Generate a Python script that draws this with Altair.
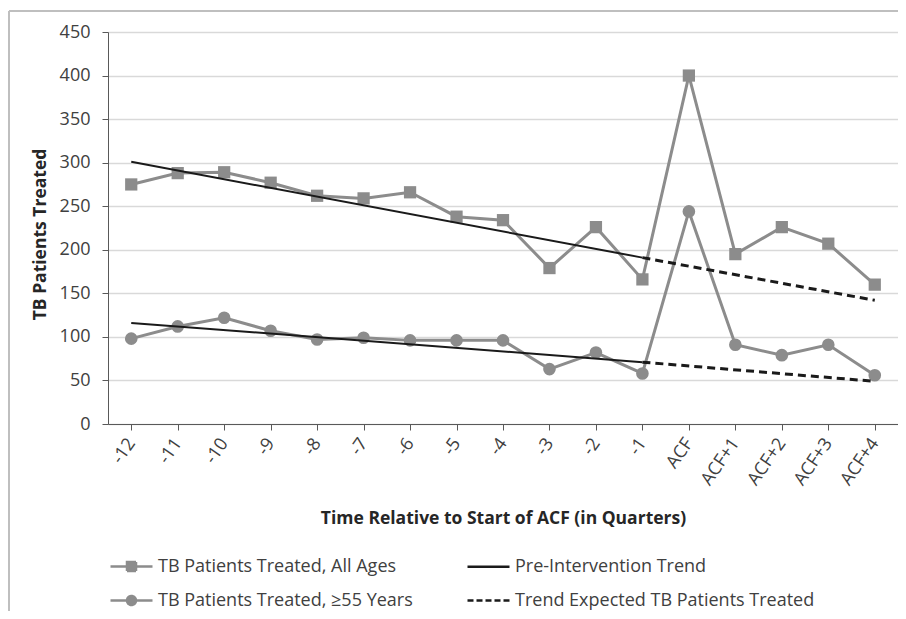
import altair as alt
import pandas as pd

categories = ["-12", "-11", "-10", "-9", "-8", "-7", "-6", "-5", "-4", "-3", "-2", "-1",
              "ACF", "ACF+1", "ACF+2", "ACF+3", "ACF+4"]
all_ages = [275, 288, 289, 277, 262, 259, 266, 238, 234, 179, 226, 166, 400, 195, 226, 207, 160]
age55 = [98, 112, 122, 107, 97, 99, 96, 96, 96, 63, 82, 58, 244, 91, 79, 91, 56]

# trend lines: endpoints
pre_q = ["-12", "-1"]
pre_all = [301, 191]
pre_55 = [116, 71]
exp_q = ["-1", "ACF+4"]
exp_all = [191, 142]
exp_55 = [71, 49]

S_ALL = "TB Patients Treated, All Ages"
S_55 = "TB Patients Treated, \u226555 Years"
S_PRE = "Pre-Intervention Trend"
S_EXP = "Trend Expected TB Patients Treated"
legend_order = [S_ALL, S_55, S_PRE, S_EXP]

GRAY = "#8c8c8c"
BLACK = "#1a1a1a"
FONT = "Open Sans"

df = pd.DataFrame({
    "q": categories * 2,
    "value": all_ages + age55,
    "series": [S_ALL] * len(categories) + [S_55] * len(categories),
})
trend = pd.DataFrame({
    "q": pre_q * 2 + exp_q * 2,
    "value": pre_all + pre_55 + exp_all + exp_55,
    "grp": ["all", "all", "55", "55"] * 2,
    "seg": ["pre"] * 4 + ["exp"] * 4,
})
leg = pd.DataFrame({"label": legend_order})

x = alt.X("q:N", sort=categories, scale=alt.Scale(domain=categories),
          axis=alt.Axis(title="Time Relative to Start of ACF (in Quarters)",
                        labelAngle=305, labelAlign="right", labelBaseline="middle",
                        labelPadding=10, tickSize=6, grid=False,
                        titleY=94, titleBaseline="middle"))
y = alt.Y("value:Q", scale=alt.Scale(domain=[0, 450], nice=False),
          axis=alt.Axis(title="TB Patients Treated", values=list(range(0, 451, 50)),
                        tickSize=6, labelPadding=12, grid=True,
                        titleX=-68, titleY=202, titleBaseline="middle", titleAngle=270))

lines = alt.Chart(df).mark_line(color=GRAY, strokeWidth=3).encode(x=x, y=y, detail="series:N")
squares = alt.Chart(df).transform_filter(alt.datum.series == S_ALL).mark_point(
    shape="square", filled=True, size=150, color=GRAY, opacity=1).encode(x=x, y=y)
circles = alt.Chart(df).transform_filter(alt.datum.series == S_55).mark_point(
    shape="circle", filled=True, size=160, color=GRAY, opacity=1).encode(x=x, y=y)
pre = alt.Chart(trend).transform_filter(alt.datum.seg == "pre").mark_line(
    color=BLACK, strokeWidth=2).encode(x=x, y=y, detail="grp:N")
exp = alt.Chart(trend).transform_filter(alt.datum.seg == "exp").mark_line(
    color=BLACK, strokeWidth=3, strokeDash=[8, 5]).encode(x=x, y=y, detail="grp:N")

sq_path = "M-1.4,0H1.4M-0.3,-0.3H0.3V0.3H-0.3Z"
ci_path = "M-1.4,0H1.4M-0.3,0A0.3,0.3 0 1,0 0.3,0A0.3,0.3 0 1,0 -0.3,0Z"
ln_path = "M-1.4,0H1.4"
lg = alt.Legend(title=None, orient="none", legendX=7, legendY=518, columns=2,
                columnPadding=49, rowPadding=8, labelOffset=10, symbolSize=900,
                symbolStrokeWidth=2.5, symbolOpacity=1, labelFont=FONT,
                labelFontSize=18, labelColor="#404040", labelLimit=400)
legend_layer = alt.Chart(leg).mark_point(filled=True, opacity=0).encode(
    shape=alt.Shape("label:N", sort=legend_order,
                    scale=alt.Scale(domain=legend_order, range=[sq_path, ci_path, ln_path, ln_path]),
                    legend=lg),
    fill=alt.Fill("label:N", sort=legend_order,
                  scale=alt.Scale(domain=legend_order, range=[GRAY, GRAY, "transparent", "transparent"]),
                  legend=lg),
    stroke=alt.Stroke("label:N", sort=legend_order,
                      scale=alt.Scale(domain=legend_order, range=[GRAY, GRAY, BLACK, BLACK]),
                      legend=lg),
    strokeDash=alt.StrokeDash("label:N", sort=legend_order,
                              scale=alt.Scale(domain=legend_order, range=[[1, 0], [1, 0], [1, 0], [6, 3]]),
                              legend=lg),
)

frame_left = alt.Chart(leg).mark_rule(color="#bfbfbf", strokeWidth=1.5).encode(
    x=alt.value(-99), y=alt.value(-21), y2=alt.value(620))
frame_top = alt.Chart(leg).mark_rule(color="#bfbfbf", strokeWidth=1.5).encode(
    x=alt.value(-99), x2=alt.value(800), y=alt.value(-21))

chart = alt.layer(frame_left, frame_top, lines, squares, circles, pre, exp, legend_layer).properties(
    width=790, height=392,
    autosize=alt.AutoSizeParams(type="none"),
    padding={"left": 100, "top": 24, "right": 0, "bottom": 187},
).configure_view(stroke=None).configure_axis(
    labelFont=FONT, labelFontSize=18, labelColor="#404040",
    titleFont=FONT, titleFontSize=17.5, titleFontWeight="bold", titleColor="#262626",
    domainColor="#595959", tickColor="#595959", gridColor="#d9d9d9", gridWidth=1.5,
)

chart.save("out.html", embed_options={"renderer": "svg", "actions": False})
